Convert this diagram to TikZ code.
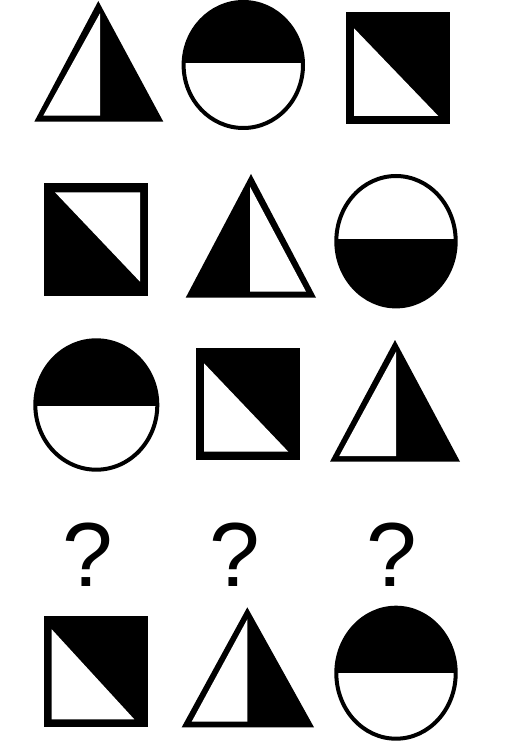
\documentclass[tikz,border=0pt]{standalone}
\usepackage{fontspec}
\setmainfont{Liberation Sans}
\begin{document}
\begin{tikzpicture}[x=1pt,y=-1pt,
  blk/.style={fill=black},
  wht/.style={fill=white},
  rim/.style={draw=black,line width=4pt},
  qmark/.style={anchor=base,inner sep=0pt,font=\fontsize{91}{91}\selectfont}]
\useasboundingbox (0,0) rectangle (516,754);
\fill[white] (0,0) rectangle (516,754);

% ---------- Row 1 ----------
% triangle 1 (right half black)
\fill[blk] (98.3,1) -- (34.3,121.7) -- (163.3,121.7) -- cycle;
\fill[wht] (100,13.3) -- (43.3,115.7) -- (100,115.7) -- cycle;
% circle 1 (top black)
\begin{scope}
\clip (243.3,65) ellipse [x radius=59.7, y radius=63];
\fill[blk] (180,0) rectangle (310,63.3);
\end{scope}
\draw[rim] (243.3,65) ellipse [x radius=59.7, y radius=63];
% square 1 (upper right black)
\fill[blk] (345.7,11.7) rectangle (450,124);
\fill[wht] (354,28.3) -- (354,116) -- (438.3,116) -- cycle;

% ---------- Row 2 ----------
% square 2 (lower left black)
\fill[blk] (44,183.3) rectangle (148,295.7);
\fill[wht] (55,192.3) -- (140,192.3) -- (140,281.7) -- cycle;
% triangle 2 (left half black)
\fill[blk] (251,174) -- (185.7,297.7) -- (316,297.7) -- cycle;
\fill[wht] (250,186.7) -- (250,291.7) -- (306,291.7) -- cycle;
% circle 2 (bottom black)
\begin{scope}
\clip (396,241.2) ellipse [x radius=59.7, y radius=65.2];
\fill[blk] (330,239.3) rectangle (462,312);
\end{scope}
\draw[rim] (396,241.2) ellipse [x radius=59.7, y radius=65.2];

% ---------- Row 3 ----------
% circle 3 (top black)
\begin{scope}
\clip (96.3,405) ellipse [x radius=61, y radius=64.7];
\fill[blk] (30,336) rectangle (162,406);
\end{scope}
\draw[rim] (96.3,405) ellipse [x radius=61, y radius=64.7];
% square 3 (upper right black)
\fill[blk] (196,348.3) rectangle (300,460);
\fill[wht] (204,363.3) -- (204,451.7) -- (288.3,451.7) -- cycle;
% triangle 3 (right half black)
\fill[blk] (395,340) -- (330,461.7) -- (460,461.7) -- cycle;
\fill[wht] (396,351.7) -- (339.3,456) -- (396,456) -- cycle;

% ---------- Question marks ----------
\node[qmark] (q1) at (88.3,586.7) {?};
\node[qmark] (q2) at (235,586.7) {?};
\node[qmark] (q3) at (391.7,586.7) {?};

% ---------- Row 4 ----------
% square 4 (upper right black)
\fill[blk] (44,615.7) rectangle (148,727.3);
\fill[wht] (51.7,629.3) -- (51.7,719.3) -- (134.3,719.3) -- cycle;
% triangle 4 (right half black)
\fill[blk] (247.3,607.3) -- (181.7,727.3) -- (314,727.3) -- cycle;
\fill[wht] (247.3,619.3) -- (191.7,721.7) -- (247.3,721.7) -- cycle;
% circle 4 (top black)
\begin{scope}
\clip (396,673.2) ellipse [x radius=59.7, y radius=65.5];
\fill[blk] (330,600) rectangle (462,673.3);
\end{scope}
\draw[rim] (396,673.2) ellipse [x radius=59.7, y radius=65.5];
\end{tikzpicture}
\end{document}
